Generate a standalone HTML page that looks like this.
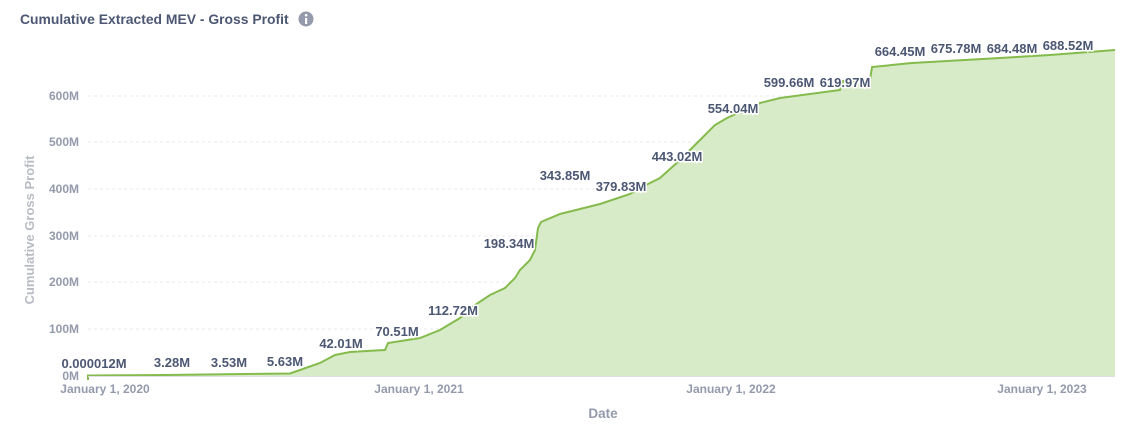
<!DOCTYPE html>
<html><head><meta charset="utf-8"><style>
body{margin:0;background:#fff;width:1145px;height:435px;overflow:hidden;font-family:"Liberation Sans",sans-serif}
</style></head><body>
<svg width="1145" height="435" xmlns="http://www.w3.org/2000/svg" font-family="Liberation Sans, sans-serif">
<text x="20" y="24" font-size="13.9" font-weight="bold" fill="#4c5773">Cumulative Extracted MEV - Gross Profit</text>
<circle cx="306" cy="19" r="7.5" fill="#949aab"/>
<rect x="305" y="18" width="2.2" height="6" fill="#fff"/><circle cx="306.1" cy="15.2" r="1.3" fill="#fff"/>
<g stroke="#e8eaee" stroke-dasharray="3,3" stroke-width="1">
<line x1="88" x2="1115" y1="329" y2="329"/><line x1="88" x2="1115" y1="282" y2="282"/>
<line x1="88" x2="1115" y1="236" y2="236"/><line x1="88" x2="1115" y1="189" y2="189"/>
<line x1="88" x2="1115" y1="142" y2="142"/><line x1="88" x2="1115" y1="96" y2="96"/>
</g>
<g font-size="12" fill="#949aab" text-anchor="end" font-weight="bold">
<text x="79" y="380">0M</text><text x="79" y="333">100M</text><text x="79" y="286">200M</text>
<text x="79" y="240">300M</text><text x="79" y="193">400M</text><text x="79" y="146">500M</text><text x="79" y="100">600M</text>
</g>
<text transform="translate(34,230) rotate(-90)" font-size="13" font-weight="bold" fill="#b8bbc3" text-anchor="middle">Cumulative Gross Profit</text>
<g font-size="12" fill="#949aab" font-weight="bold" text-anchor="middle">
<text x="105" y="393">January 1, 2020</text><text x="419" y="393">January 1, 2021</text>
<text x="731" y="393">January 1, 2022</text><text x="1042" y="393">January 1, 2023</text>
</g>
<text x="603" y="418" font-size="13.5" font-weight="bold" fill="#949aab" text-anchor="middle">Date</text>
<path d="M88,376 L88,375.5 L165,375 L290,373.5 L300,370 L320,363 L335,355 L350,352 L385,350 L388,343 L420,338 L440,330 L460,318 L475,305 L490,295 L505,288 L515,278 L520,270 L530,260 L535,250 L538,228 L541,222 L560,214 L600,204 L630,194 L640,188 L660,178 L680,160 L700,140 L715,125 L727,118 L740,112 L760,103 L780,98 L840,90 L843,81 L870,80 L872,67 L912,63 L1000,58 L1050,55 L1115,50 L1115,376 Z" fill="#d8ebc8"/>
<path d="M88,380 L88,375.5 L165,375 L290,373.5 L300,370 L320,363 L335,355 L350,352 L385,350 L388,343 L420,338 L440,330 L460,318 L475,305 L490,295 L505,288 L515,278 L520,270 L530,260 L535,250 L538,228 L541,222 L560,214 L600,204 L630,194 L640,188 L660,178 L680,160 L700,140 L715,125 L727,118 L740,112 L760,103 L780,98 L840,90 L843,81 L870,80 L872,67 L912,63 L1000,58 L1050,55 L1115,50" fill="none" stroke="#84bb4c" stroke-width="2"/>
<line x1="88" x2="1115" y1="376.5" y2="376.5" stroke="#dcdfe4"/>
<g font-size="13" font-weight="bold" fill="#4c5773" text-anchor="middle" stroke="#fff" stroke-width="3" paint-order="stroke">
<text x="94" y="368">0.000012M</text><text x="172" y="367">3.28M</text><text x="229" y="367">3.53M</text>
<text x="285" y="366">5.63M</text><text x="341" y="348">42.01M</text><text x="397" y="336">70.51M</text>
<text x="453" y="315">112.72M</text><text x="509" y="248">198.34M</text><text x="565" y="180">343.85M</text>
<text x="621" y="191">379.83M</text><text x="677" y="161">443.02M</text><text x="733" y="113">554.04M</text>
<text x="789" y="87">599.66M</text><text x="845" y="87">619.97M</text><text x="900" y="56">664.45M</text>
<text x="956" y="53">675.78M</text><text x="1012" y="53">684.48M</text><text x="1068" y="50">688.52M</text>
</g>
</svg>
</body></html>
